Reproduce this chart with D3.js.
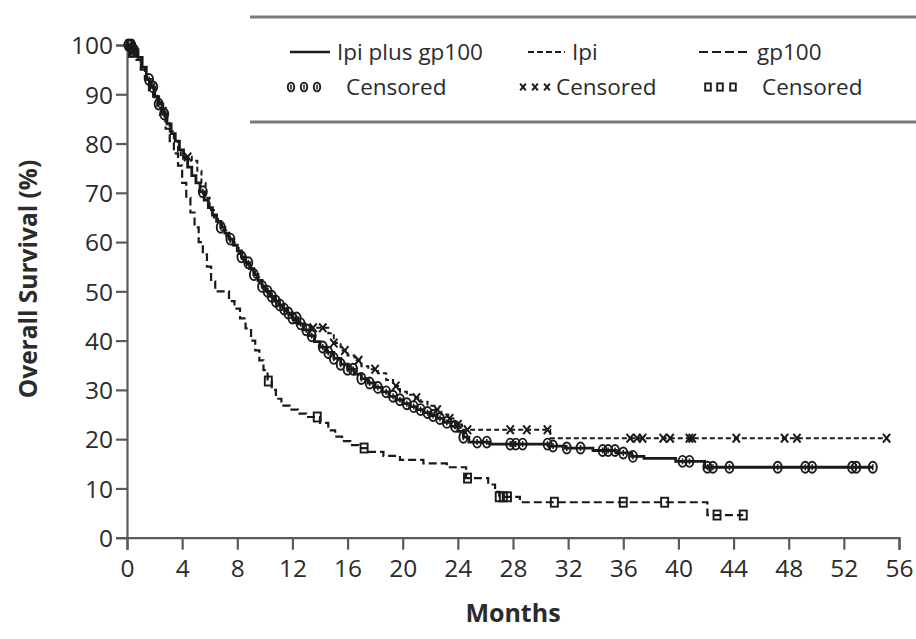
<!DOCTYPE html>
<html>
<head>
<meta charset="utf-8">
<script src="https://cdn.jsdelivr.net/npm/d3@7"></script>
<style>
  html, body { margin: 0; padding: 0; background: #fff; }
  svg { display: block; }
  text { font-family: "Open Sans", "Noto Sans", sans-serif; fill: #2b2b2b; }
</style>
</head>
<body>
<svg id="chart" width="916" height="639"></svg>
<script>
// Kaplan-Meier steps: [month, overall survival %] at each drop
const ipiGp100Steps = [[0,100],[0.5,99],[0.8,97.5],[1.1,95.5],[1.4,93],[1.7,91.5],[2.0,89.5],[2.3,88],[2.6,86],[2.9,84],[3.2,82],[3.5,80.5],[3.8,78.7],[4.1,77],[4.4,75.2],[4.7,73.5],[5.0,72],[5.3,70.2],[5.6,68.5],[5.9,67],[6.2,65.5],[6.5,64.2],[6.8,63],[7.1,61.8],[7.4,60.6],[7.7,59.4],[8.0,58.2],[8.3,57],[8.6,55.8],[8.9,54.6],[9.2,53.4],[9.5,52.2],[9.8,51],[10.1,50],[10.4,49],[10.7,48],[11.0,47.2],[11.3,46.4],[11.6,45.6],[12.0,44.6],[12.4,43.4],[12.8,42.2],[13.2,41],[13.6,39.8],[14.0,38.7],[14.5,37.6],[15.0,36.4],[15.5,35.2],[16.0,34.2],[16.5,33.2],[17.0,32.3],[17.5,31.4],[18.0,30.5],[18.5,29.6],[19.0,28.7],[19.5,28],[20.0,27.2],[20.5,26.6],[21.0,26],[21.5,25.4],[22.0,24.8],[22.5,24.2],[23.0,23.4],[23.5,22.6],[24.0,21.6],[24.4,20.4],[24.8,19.4],[26.3,19.0],[30.6,18.6],[31.8,18.2],[33.8,17.7],[35.5,17.2],[36.6,16.5],[37.5,16.1],[39.8,15.5],[41.9,14.3]];
const ipiGp100End = 54.1;
const ipiGp100Censored = [0.1,0.3,0.5,1.6,1.9,2.3,2.7,5.5,6.8,7.5,8.3,8.8,9.2,9.8,10.2,10.5,10.8,11.1,11.4,11.7,12.0,12.3,12.6,13.0,13.4,14.2,14.6,15.0,15.5,16.0,16.4,17.0,17.6,18.2,18.8,19.3,19.8,20.3,20.8,21.3,21.8,22.2,22.7,23.2,23.8,24.4,25.4,26.1,27.8,28.2,28.7,30.5,30.9,31.9,32.9,34.5,34.9,35.4,36.0,36.7,40.3,40.8,42.1,42.5,43.7,47.2,49.2,49.7,52.6,52.9,54.1];

const ipiSteps = [[0,100],[0.4,98.5],[0.7,97],[1.0,95.5],[1.3,93.5],[1.6,91.5],[1.9,90],[2.2,88.5],[2.5,86.5],[2.8,84.5],[3.1,82.5],[3.4,80.5],[3.7,78.5],[3.9,77.3],[4.7,76.5],[5.1,74.5],[5.4,72],[5.7,69],[6.0,66.5],[6.3,65],[6.6,63.6],[6.9,62.4],[7.2,61.2],[7.5,60],[7.8,58.8],[8.1,57.6],[8.4,56.4],[8.7,55.2],[9.0,54],[9.3,52.8],[9.6,51.6],[9.9,50.6],[10.2,49.6],[10.5,48.6],[10.8,47.8],[11.1,46.9],[11.4,46],[11.7,45.2],[12.1,44.2],[12.5,43.5],[12.9,43],[13.3,42.6],[14.6,41.5],[15.0,39.5],[15.5,38],[16.0,37],[16.5,36],[17.0,34.8],[17.5,34.2],[18.2,33.4],[18.8,32],[19.3,30.8],[19.8,29.6],[20.3,29],[20.8,28.4],[21.3,27.6],[21.8,26.8],[22.3,26],[22.8,25],[23.3,24.2],[23.8,23],[24.3,21.9],[30.7,20.2]];
const ipiEnd = 55.1;
const ipiCensored = [0.2,0.4,1.8,2.6,4.4,13.5,14.2,15.0,15.8,16.8,18.0,19.5,21.0,22.5,23.4,24.0,24.7,27.8,29.0,30.5,36.5,37.0,37.4,38.9,39.4,40.8,41.0,44.2,47.7,48.6,55.1];

const gp100Steps = [[0,100],[0.4,98.5],[0.7,97],[1.0,95],[1.3,93],[1.6,91],[1.9,89.5],[2.2,87.5],[2.5,85.5],[2.8,83],[3.1,80.5],[3.4,78],[3.7,75.5],[4.0,72],[4.3,69],[4.6,66],[4.9,63],[5.2,60],[5.5,57.5],[5.8,55],[6.1,52],[6.4,50],[7.4,48],[7.8,46.5],[8.2,44.5],[8.6,42.5],[9.0,40],[9.3,38],[9.6,36],[9.9,34],[10.2,31.8],[10.5,30],[10.8,28.2],[11.2,26.8],[11.8,26],[12.4,25.2],[13.0,24.5],[14.0,23.3],[14.6,21.8],[15.1,20.5],[15.6,19.6],[16.2,18.8],[16.8,18.2],[17.4,17.4],[18.6,16.6],[19.8,15.8],[21.5,15.1],[23.2,14.3],[24.6,12.1],[26.2,10.8],[26.7,9.3],[27.0,8.3],[28.5,7.2],[42.1,4.6]];
const gp100End = 44.7;
const gp100Censored = [0.2,0.4,10.25,13.8,17.2,24.7,27.0,27.3,27.6,31.0,36.0,39.0,42.8,44.7];

const xTicks = [0,4,8,12,16,20,24,28,32,36,40,44,48,52,56];
const yTicks = [0,10,20,30,40,50,60,70,80,90,100];

const legendLabels = ["Ipi plus gp100", "Ipi", "gp100"];
const censoredLabel = "Censored";
const xTitle = "Months";
const yTitle = "Overall Survival (%)";

const svg = d3.select("#chart");
const ink = "#1a1a1a";
const axisInk = "#5a5a5a";

const x = d3.scaleLinear().domain([0, 56]).range([127, 899]);
const y = d3.scaleLinear().domain([0, 100]).range([537.7, 45]);

// axes
const gx = svg.append("g").attr("transform", `translate(0,${y(0)})`)
  .call(d3.axisBottom(x).tickValues(xTicks).tickSize(12).tickPadding(7).tickFormat(d3.format("d")));
const gy = svg.append("g").attr("transform", `translate(${x(0)},0)`)
  .call(d3.axisLeft(y).tickValues(yTicks).tickSize(11).tickPadding(3).tickFormat(d3.format("d")));
[gx, gy].forEach(g => {
  g.select(".domain").attr("stroke", axisInk).attr("stroke-width", 2.2);
  g.selectAll(".tick line").attr("stroke", axisInk).attr("stroke-width", 2.2);
  g.selectAll(".tick text").attr("fill", "#333").style("font-size", "24.5px")
    .style("font-family", "'Open Sans', sans-serif");
});
gx.selectAll(".tick text").attr("dy", "0.82em");
gy.selectAll(".tick text").attr("dy", "0.36em");

svg.append("text").attr("x", x(28)).attr("y", 622).attr("text-anchor", "middle")
  .style("font-size", "25px").style("font-weight", "700").text(xTitle);
svg.append("text").attr("transform", `translate(37,${y(52.5)}) rotate(-90)`)
  .attr("text-anchor", "middle").style("font-size", "24.5px").style("font-weight", "700").text(yTitle);

// survival curves
function stepPath(steps, end) {
  const pts = steps.concat([[end, steps[steps.length - 1][1]]]);
  return d3.line().x(d => x(d[0])).y(d => y(d[1])).curve(d3.curveStepAfter)(pts);
}
function survivalAt(steps, t) {
  const i = d3.bisector(d => d[0]).right(steps, t) - 1;
  return steps[Math.max(0, i)][1];
}

const arms = [
  { steps: gp100Steps, end: gp100End, cens: gp100Censored, dash: "8,4", width: 2.2, mark: "square" },
  { steps: ipiSteps, end: ipiEnd, cens: ipiCensored, dash: "5,3", width: 2, mark: "cross" },
  { steps: ipiGp100Steps, end: ipiGp100End, cens: ipiGp100Censored, dash: null, width: 2.8, mark: "circle" }
];

function drawMark(g, type, cx, cy, s) {
  if (type === "circle") {
    g.append("ellipse").attr("cx", cx).attr("cy", cy).attr("rx", 4 * s).attr("ry", 5.5 * s)
      .attr("fill", "none").attr("stroke", ink).attr("stroke-width", 1.9);
    g.append("line").attr("x1", cx).attr("x2", cx).attr("y1", cy - 3 * s).attr("y2", cy + 3 * s)
      .attr("stroke", ink).attr("stroke-width", 1.5);
  } else if (type === "square") {
    g.append("rect").attr("x", cx - 3.5 * s).attr("y", cy - 4.5 * s).attr("width", 7 * s).attr("height", 9 * s)
      .attr("fill", "none").attr("stroke", ink).attr("stroke-width", 1.9);
  } else {
    const r = 3.6 * s;
    g.append("path").attr("d", `M${cx - r},${cy - r * 1.2}L${cx + r},${cy + r * 1.2}M${cx + r},${cy - r * 1.2}L${cx - r},${cy + r * 1.2}`)
      .attr("stroke", ink).attr("stroke-width", 2).attr("fill", "none");
  }
}

arms.forEach(a => {
  svg.append("path").attr("d", stepPath(a.steps, a.end)).attr("fill", "none")
    .attr("stroke", ink).attr("stroke-width", a.width)
    .attr("stroke-dasharray", a.dash);
  const g = svg.append("g");
  a.cens.forEach(t => drawMark(g, a.mark, x(t), y(survivalAt(a.steps, t)), 1));
});

// legend panel
const lg = svg.append("g");
lg.append("rect").attr("x", 250).attr("y", 18).attr("width", 666).attr("height", 104).attr("fill", "#fff");
[17, 122].forEach(yy => lg.append("line").attr("x1", 250).attr("x2", 916).attr("y1", yy).attr("y2", yy)
  .attr("stroke", "#7a7a7a").attr("stroke-width", 3));

const legendItems = [
  { label: legendLabels[0], dash: null, width: 2.6, lx: 290, lw: 40, tx: 337, mark: "circle", mx: [291, 304, 317], cx: 346 },
  { label: legendLabels[1], dash: "6,3", width: 2, lx: 528, lw: 37, tx: 572, mark: "cross", mx: [523, 535, 547], cx: 556 },
  { label: legendLabels[2], dash: "9,4", width: 2.2, lx: 699, lw: 52, tx: 757, mark: "square", mx: [708, 720, 733], cx: 762 }
];
legendItems.forEach(it => {
  lg.append("line").attr("x1", it.lx).attr("x2", it.lx + it.lw).attr("y1", 52).attr("y2", 52)
    .attr("stroke", ink).attr("stroke-width", it.width).attr("stroke-dasharray", it.dash);
  lg.append("text").attr("x", it.tx).attr("y", 60).style("font-size", "22.5px").text(it.label);
  it.mx.forEach(m => drawMark(lg, it.mark, m, 87, 0.8));
  lg.append("text").attr("x", it.cx).attr("y", 95).style("font-size", "22.5px").text(censoredLabel);
});
</script>
</body>
</html>
